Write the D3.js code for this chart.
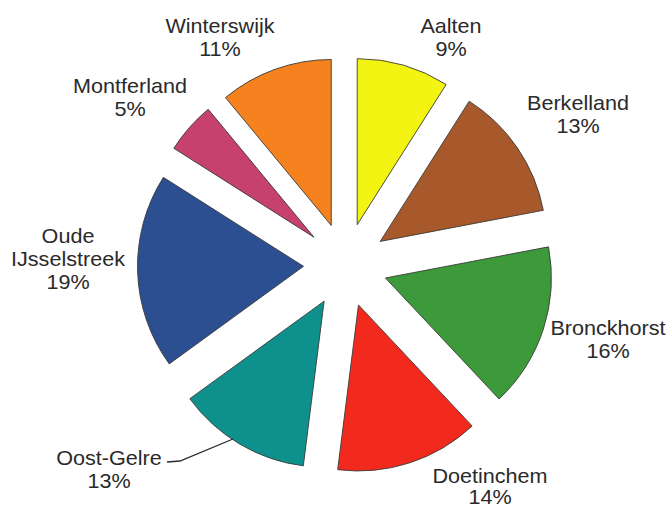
<!DOCTYPE html>
<html>
<head>
<meta charset="utf-8">
<script src="https://cdn.jsdelivr.net/npm/d3@7"></script>
<style>
  html, body { margin: 0; padding: 0; background: #fff; }
  svg { display: block; }
  text { font-family: "Liberation Sans", Arial, sans-serif; fill: #2a2a2a; }
</style>
</head>
<body>
<script>
const categories = ["Aalten", "Berkelland", "Bronckhorst", "Doetinchem", "Oost-Gelre", "Oude IJsselstreek", "Montferland", "Winterswijk"];
const values = [9, 13, 16, 14, 13, 19, 5, 11];
const colors = ["#f4f412", "#a8592b", "#3c9a3a", "#f22a1e", "#0e918d", "#2b4f90", "#c6416d", "#f5821f"];
const labelLines = [["Aalten", "9%"], ["Berkelland", "13%"], ["Bronckhorst", "16%"], ["Doetinchem", "14%"], ["Oost-Gelre", "13%"], ["Oude", "IJsselstreek", "19%"], ["Montferland", "5%"], ["Winterswijk", "11%"]];

const W = 671, H = 510;
const cx = 345.5, cy = 265, R = 166, explode = 42;
const labelPos = [[451, 33], [578, 110], [608, 335], [490, 483], [109, 465], [68, 243], [130, 93], [220, 33]];
const lineGap = [23, 23, 23, 21, 23, 23, 23, 23];

const svg = d3.select("body").append("svg").attr("width", W).attr("height", H);

const pie = d3.pie().sort(null).value(d => d).startAngle(0).endAngle(2 * Math.PI);
const arcs = pie(values);
const arc = d3.arc().innerRadius(0).outerRadius(R);

const g = svg.append("g").attr("transform", `translate(${cx},${cy})`);
g.selectAll("path.slice")
  .data(arcs)
  .enter().append("path")
  .attr("class", "slice")
  .attr("d", arc)
  .attr("fill", (d, i) => colors[i])
  .attr("stroke", "#3a3a3a")
  .attr("stroke-width", 0.9)
  .attr("stroke-linejoin", "miter")
  .attr("transform", d => {
    const a = (d.startAngle + d.endAngle) / 2;
    return `translate(${explode * Math.sin(a)},${-explode * Math.cos(a)})`;
  });

// leader line for Oost-Gelre
svg.append("path")
  .attr("d", "M167,462 L180,461 L233,439")
  .attr("fill", "none")
  .attr("stroke", "#2a2a2a")
  .attr("stroke-width", 1.3);

const labels = svg.selectAll("text.lbl")
  .data(categories)
  .enter().append("text")
  .attr("class", "lbl")
  .attr("text-anchor", "middle")
  .attr("font-size", 20)
  .attr("transform", (d, i) => `translate(${labelPos[i][0]},${labelPos[i][1]}) scale(1.08,1)`);

labels.each(function(d, i) {
  const t = d3.select(this);
  labelLines[i].forEach((line, j) => {
    t.append("tspan").attr("x", 0).attr("y", j * lineGap[i]).text(line);
  });
});
</script>
</body>
</html>
